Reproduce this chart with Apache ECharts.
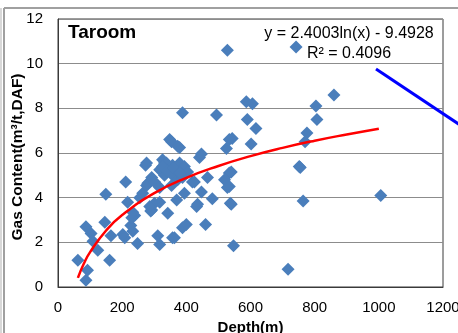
<!DOCTYPE html>
<html>
<head>
<meta charset="utf-8">
<script src="https://cdn.jsdelivr.net/npm/echarts@6/dist/echarts.min.js"></script>
<style>
html, body { margin: 0; padding: 0; background: #fff; }
#main { width: 458px; height: 333px; }
</style>
</head>
<body>
<div id="main"></div>
<script>
// sample points: [depth (m), gas content]
var samples = [
	[62, 1.2], [87, 0.3], [92, 0.75], [87, 2.7], [103, 2.4], [109, 2.05], [124, 1.65], [161, 1.2],
	[146, 2.9], [165, 2.3], [149, 4.15], [211, 4.7], [208, 2.2], [202, 2.35], [248, 1.95], [233, 2.5],
	[227, 2.75], [239, 3.2], [230, 3.1], [233, 3.35], [217, 3.8], [255, 4.0], [264, 4.2], [276, 4.55],
	[286, 4.7], [280, 4.65], [273, 5.45], [276, 5.55], [289, 3.4], [292, 3.45], [311, 2.3], [317, 1.9],
	[301, 3.75], [317, 3.8], [286, 3.6], [342, 3.3], [357, 2.2], [363, 2.2], [388, 2.65], [400, 2.8],
	[460, 2.8], [547, 1.85], [717, 0.8],
	[292, 4.9], [301, 4.7], [317, 5.25], [326, 5.7], [332, 5.55], [338, 5.55], [357, 5.45], [379, 5.55],
	[394, 5.4], [404, 5.15], [332, 5.0], [357, 5.0], [373, 4.8], [388, 4.9], [317, 4.45], [354, 4.55],
	[370, 3.9], [394, 4.2], [419, 4.7], [425, 4.7], [435, 3.7], [432, 3.6], [447, 4.25], [466, 4.9],
	[481, 3.95], [348, 6.6], [354, 6.5], [373, 6.3], [379, 6.25], [441, 5.8], [447, 5.95], [534, 5.1],
	[540, 5.15], [519, 4.8], [528, 4.45], [534, 4.5], [537, 3.75], [540, 3.7], [326, 5.4], [340, 5.2],
	[360, 5.3], [380, 5.1],
	[388, 7.8], [494, 7.7], [525, 6.2], [543, 6.65], [534, 6.6], [602, 6.4], [587, 8.3], [606, 8.2],
	[590, 7.5], [617, 7.1], [528, 10.6], [742, 10.75], [804, 8.1], [807, 7.5], [860, 8.6], [776, 6.9],
	[770, 6.5], [752, 5.4], [755, 5.35], [764, 3.85], [1006, 4.1]
];
// log trend line
var trendX = [62, 80, 100, 150, 200, 300, 400, 500, 600, 700, 800, 900, 1000];
var trendY = [0.41, 1.03, 1.56, 2.53, 3.22, 4.20, 4.89, 5.42, 5.86, 6.23, 6.55, 6.83, 7.09];
var yTicks = [0, 2, 4, 6, 8, 10, 12];
var xTicks = [0, 200, 400, 600, 800, 1000, 1200];

var trend = [];
for (var i = 0; i < trendX.length; i++) {
	trend.push([trendX[i], trendY[i]]);
}

var chart = echarts.init(document.getElementById('main'));
var font = 'Liberation Sans, Arial, sans-serif';
var option = {
	backgroundColor: '#fff',
	animation: false,
	grid: {
		left: 58, top: 19, right: 15, bottom: 46,
		outerBoundsMode: 'none', containLabel: false,
		show: true, borderColor: '#3a3a3a', borderWidth: 1
	},
	xAxis: {
		type: 'value',
		min: xTicks[0], max: xTicks[xTicks.length - 1], interval: 200,
		name: 'Depth(m)', nameLocation: 'middle', nameGap: 28,
		nameTextStyle: { fontFamily: font, fontWeight: 'bold', fontSize: 15, color: '#000' },
		axisLine: { show: true, lineStyle: { color: '#3a3a3a' } },
		axisTick: { show: false },
		axisLabel: {
			fontFamily: font, fontSize: 15, color: '#000', margin: 13,
			formatter: function(v) { return String(v); }
		},
		splitLine: { show: false }
	},
	yAxis: {
		type: 'value',
		min: yTicks[0], max: yTicks[yTicks.length - 1], interval: 2,
		axisLine: { show: true, lineStyle: { color: '#3a3a3a' } },
		axisTick: { show: false },
		axisLabel: { fontFamily: font, fontSize: 15, color: '#000', margin: 15 },
		splitLine: { show: true, lineStyle: { color: '#8c8c8c', width: 1 } }
	},
	series: [
		{
			type: 'scatter',
			data: samples,
			symbol: 'diamond',
			symbolSize: 13,
			itemStyle: { color: '#4a7ebb', opacity: 1 },
			z: 2
		},
		{
			type: 'line',
			data: trend,
			smooth: true,
			showSymbol: false,
			lineStyle: { color: '#ff0000', width: 2.5 },
			z: 3
		}
	],
	graphic: [
		// outer frame of the original figure
		{ type: 'line', shape: { x1: 4, y1: 8, x2: 458, y2: 8 }, style: { stroke: '#a0a0a0', lineWidth: 2 } },
		{ type: 'line', shape: { x1: 4, y1: 8, x2: 4, y2: 333 }, style: { stroke: '#a0a0a0', lineWidth: 2 } },
		{ type: 'line', shape: { x1: 1, y1: 8, x2: 1, y2: 333 }, style: { stroke: '#d8d8d8', lineWidth: 2 } },
		// blue pointer line
		{ type: 'line', shape: { x1: 376, y1: 69, x2: 460, y2: 125 }, style: { stroke: '#0000ff', lineWidth: 3 }, z: 10 },
		{
			type: 'text', x: 18, y: 157, rotation: Math.PI / 2,
			style: {
				text: 'Gas Content(m³/t,DAF)', font: 'bold 15.5px ' + font, fill: '#000',
				align: 'center', verticalAlign: 'middle'
			}
		},
		{
			type: 'text', left: 68, top: 23,
			style: { text: 'Taroom', font: 'bold 19px ' + font, fill: '#000' }
		},
		{
			type: 'text', x: 349, y: 24,
			style: {
				text: 'y = 2.4003ln(x) - 9.4928\nR² = 0.4096',
				font: '16px ' + font, fill: '#000', align: 'center', lineHeight: 20
			}
		}
	]
};
chart.setOption(option);
</script>
</body>
</html>
